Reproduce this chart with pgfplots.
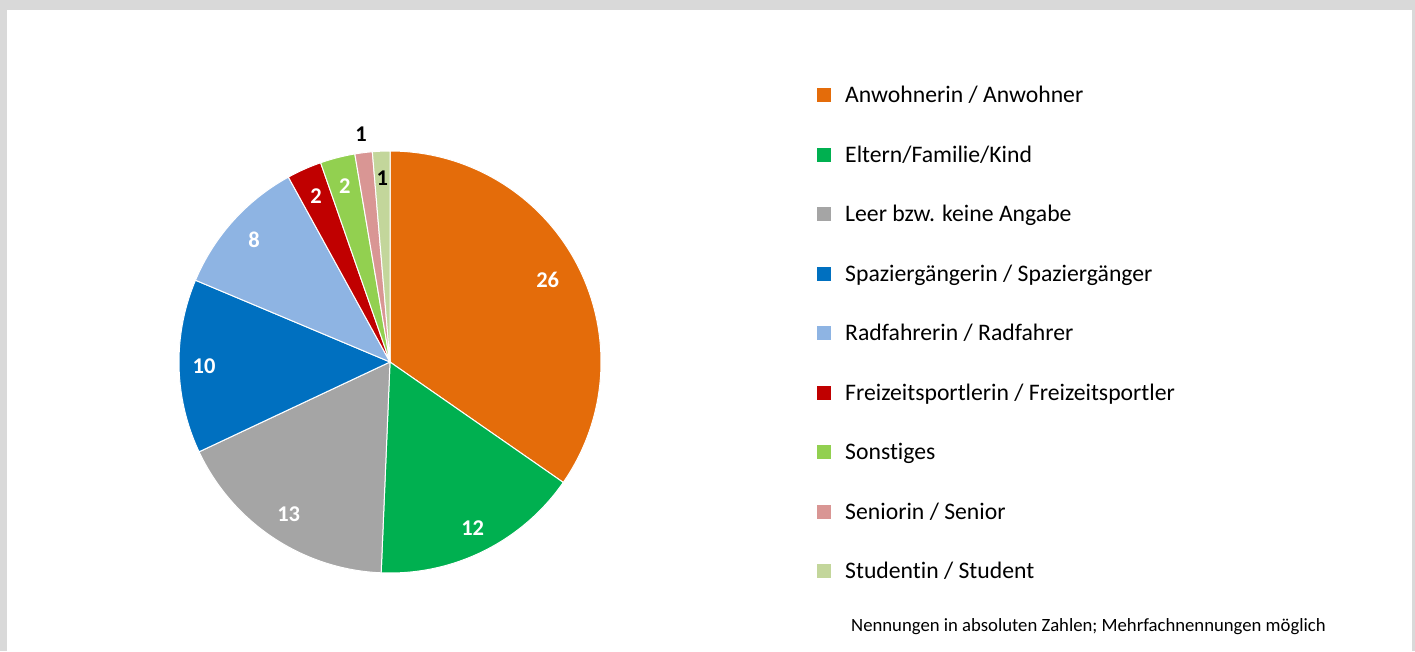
\documentclass[border=0pt]{standalone}
\usepackage{pgfplots}
\pgfplotsset{compat=1.18}
\usepackage{fontspec}
\setmainfont{Carlito}[Ligatures={NoCommon}]
\definecolor{cA}{HTML}{E46C0A}
\definecolor{cB}{HTML}{00B050}
\definecolor{cC}{HTML}{A5A5A5}
\definecolor{cD}{HTML}{0070C0}
\definecolor{cE}{HTML}{8EB4E3}
\definecolor{cF}{HTML}{C00000}
\definecolor{cG}{HTML}{92D050}
\definecolor{cH}{HTML}{D99694}
\definecolor{cI}{HTML}{C3D69B}
\definecolor{frame}{HTML}{D9D9D9}
\newcommand\labfont{\bfseries\fontsize{22.5}{27}\selectfont}
\tikzset{lbl/.style={inner sep=0pt, font=\labfont}}
% values (counts)
\def\vA{26}\def\vB{12}\def\vC{13}\def\vD{10}\def\vE{8}\def\vF{2}\def\vG{2}\def\vH{1}\def\vI{1}
\pgfmathsetmacro\tot{\vA+\vB+\vC+\vD+\vE+\vF+\vG+\vH+\vI}
\pgfmathsetmacro\aO{90}
\pgfmathsetmacro\aA{\aO-360*\vA/\tot}
\pgfmathsetmacro\aB{\aA-360*\vB/\tot}
\pgfmathsetmacro\aC{\aB-360*\vC/\tot}
\pgfmathsetmacro\aD{\aC-360*\vD/\tot}
\pgfmathsetmacro\aE{\aD-360*\vE/\tot}
\pgfmathsetmacro\aF{\aE-360*\vF/\tot}
\pgfmathsetmacro\aG{\aF-360*\vG/\tot}
\pgfmathsetmacro\aH{\aG-360*\vH/\tot}
\pgfmathsetmacro\aI{\aH-360*\vI/\tot}
\def\cx{390}\def\cy{289}\def\R{211}
\newcommand\slice[3]{% start, end, colour
  \addplot[fill=#3, draw=white, line width=1pt, domain=#1:#2, samples=90, variable=\t, forget plot]
    ({\cx+\R*cos(\t)},{\cy+\R*sin(\t)}) -- (\cx,\cy) -- cycle;}
\newcommand\lab[5]{% start, end, text, colour, radius
  \pgfmathsetmacro\mid{(#1+#2)/2}%
  \edef\tmp{\noexpand\node[lbl, text=#4] at ({\cx+#5*cos(\mid)},{\cy+#5*sin(\mid)}) {#3};}\tmp}
\begin{document}
\begin{tikzpicture}
\begin{axis}[
  scale only axis, width=1415pt, height=651pt,
  xmin=0, xmax=1415, ymin=0, ymax=651,
  hide axis, clip=false,
  legend cell align=left,
  legend style={at={(axis cs:817,565.3)}, anchor=north west, draw=none, fill=none,
    inner sep=0pt, row sep=36.5pt, column sep=14pt,
    font=\fontsize{23.7}{28}\selectfont,
    nodes={inner sep=0pt, text height=17pt, text depth=6pt, anchor=base west}},
  legend image code/.code={\path[#1, draw=none] (0pt,0.7pt) rectangle (14pt,14.7pt);},
]
\fill[frame] (axis cs:0,0) rectangle (axis cs:1415,651);
\fill[white] (axis cs:7,0) rectangle (axis cs:1412,641);
\slice{\aA}{\aO}{cA}
\slice{\aB}{\aA}{cB}
\slice{\aC}{\aB}{cC}
\slice{\aD}{\aC}{cD}
\slice{\aE}{\aD}{cE}
\slice{\aF}{\aE}{cF}
\slice{\aG}{\aF}{cG}
\slice{\aH}{\aG}{cH}
\slice{\aI}{\aH}{cI}
\lab{\aO}{\aA}{\vA}{white}{178}
\lab{\aA}{\aB}{\vB}{white}{186}
\lab{\aB}{\aC}{\vC}{white}{183}
\lab{\aC}{\aD}{\vD}{white}{186}
\lab{\aD}{\aE}{\vE}{white}{183}
\lab{\aE}{\aF}{\vF}{white}{182}
\lab{\aF}{\aG}{\vG}{white}{182}
\lab{\aH}{\aI}{\vI}{black}{184}
\lab{\aG}{\aH}{\vH}{black}{230}
\addlegendimage{fill=cA}\addlegendentry{Anwohnerin / Anwohner}
\addlegendimage{fill=cB}\addlegendentry{Eltern/Familie/Kind}
\addlegendimage{fill=cC}\addlegendentry{Leer bzw. keine Angabe}
\addlegendimage{fill=cD}\addlegendentry{Spaziergängerin / Spaziergänger}
\addlegendimage{fill=cE}\addlegendentry{Radfahrerin / Radfahrer}
\addlegendimage{fill=cF}\addlegendentry{Freizeitsportlerin / Freizeitsportler}
\addlegendimage{fill=cG}\addlegendentry{Sonstiges}
\addlegendimage{fill=cH}\addlegendentry{Seniorin / Senior}
\addlegendimage{fill=cI}\addlegendentry{Studentin / Student}
\node[anchor=west, font=\fontsize{18.7}{22}\selectfont, inner sep=0pt] at (axis cs:851,24) {Nennungen in absoluten Zahlen; Mehrfachnennungen möglich};
\end{axis}
\end{tikzpicture}
\end{document}
